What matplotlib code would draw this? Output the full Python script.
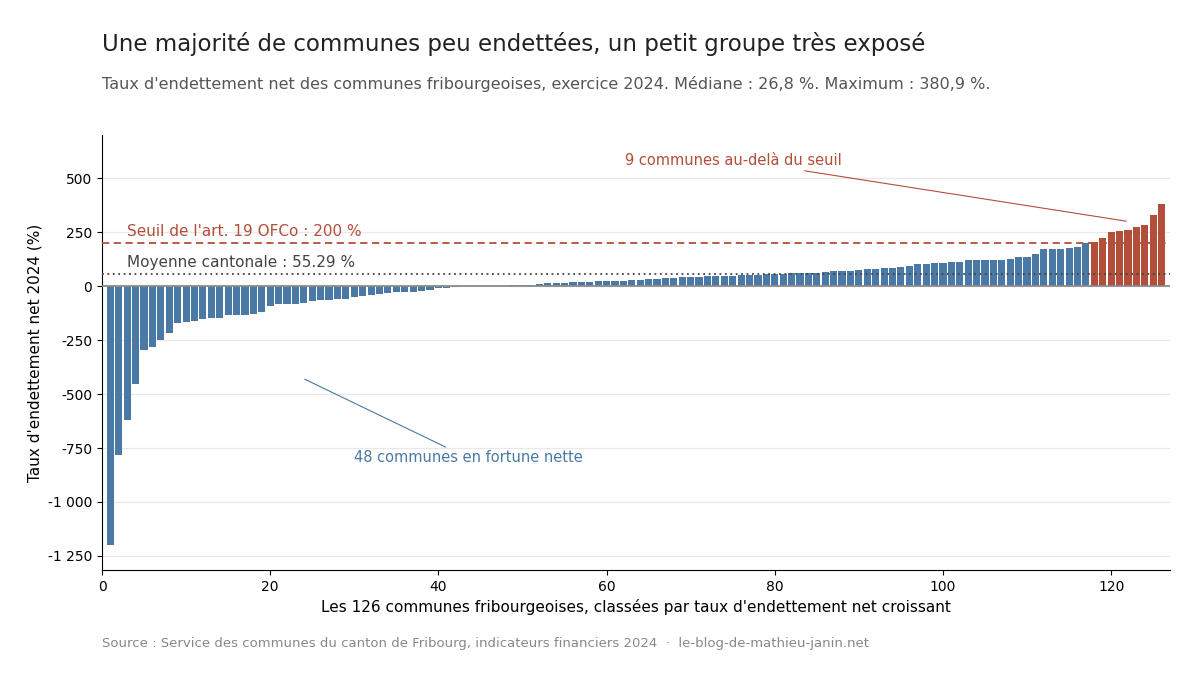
import numpy as np
import matplotlib.pyplot as plt
from matplotlib.ticker import FuncFormatter

# Taux d'endettement net (%) des 126 communes, classés par ordre croissant
neg_values = [-1199, -782, -620, -454, -296, -282, -250, -216, -171, -167,
              -162, -153, -148, -148, -134, -134, -134, -130, -120, -93,
              -83, -83, -83, -79, -69, -65, -65, -60, -60, -51,
              -46, -42, -37, -32, -28, -28, -28, -23, -19, -9, -8,
              -2.0, -1.5, -1.2, -0.8, -0.5, -0.3, -0.1]
pos_values = [6, 6, 6, 10, 14, 14, 14, 18, 18, 19,
              22, 23, 23, 24, 26.5, 27.1, 32, 32, 37, 37,
              41, 42, 42, 46, 46, 47, 47, 51, 51, 52,
              56, 56, 56, 60, 60, 61, 61, 65, 69, 69,
              69, 74, 79, 79, 83, 83, 88, 93, 102, 102,
              106, 106, 111, 111, 120, 120, 120, 120, 120, 125,
              134, 134, 148, 171, 171, 171, 176, 180, 198, 205,
              222, 250, 255, 259, 273, 282, 329, 380.9]
values = np.array(neg_values + pos_values)
ranks = np.arange(1, len(values) + 1)

threshold = 200
mean_canton = 55.29

BLUE = "#4a79a5"
RED = "#b34e3a"

plt.rcParams['font.family'] = ['DejaVu Sans']

fig = plt.figure(figsize=(12, 6.75), dpi=100)
ax = fig.add_axes([0.085, 0.1556, 0.89, 0.644])

colors = [RED if v > threshold else BLUE for v in values]
ax.bar(ranks, values, width=0.85, color=colors, zorder=2)

ax.axhline(0, color="#8c8c8c", lw=1.3, zorder=3)
ax.axhline(threshold, color=RED, lw=1.3, ls=(0, (4, 2.5)), zorder=3)
ax.axhline(mean_canton, color="#444444", lw=1.3, ls=(0, (1, 2)), zorder=3)

ax.text(3, threshold + 18, f"Seuil de l'art. 19 OFCo : {threshold} %",
        color=RED, fontsize=11, ha="left", va="bottom")
ax.text(3, mean_canton + 18, f"Moyenne cantonale : {mean_canton} %",
        color="#444444", fontsize=11, ha="left", va="bottom")

n_above = int((values > threshold).sum())
n_neg = int((values < 0).sum())
ax.annotate(f"{n_above} communes au-delà du seuil", xy=(121.8, 301),
            xytext=(62.2, 583), color=RED, fontsize=10.5, ha="left", va="center",
            arrowprops=dict(arrowstyle="-", color=RED, lw=0.8,
                            relpos=(0.74, 0), shrinkA=1, shrinkB=0))
ax.annotate(f"{n_neg} communes en fortune nette", xy=(24.1, -431),
            xytext=(30.0, -796), color=BLUE, fontsize=10.5, ha="left", va="center",
            arrowprops=dict(arrowstyle="-", color=BLUE, lw=0.8,
                            relpos=(0.43, 1), shrinkA=1, shrinkB=0))

ax.set_xlim(0, 127)
ax.set_ylim(-1315, 699)
ax.set_yticks(np.arange(-1250, 501, 250))
ax.yaxis.set_major_formatter(FuncFormatter(lambda v, p: f"{int(v):,}".replace(",", " ")))
ax.set_xticks([0, 20, 40, 60, 80, 100, 120])
ax.tick_params(labelsize=10)
ax.grid(axis="y", color="#e8e8e8", lw=0.9, zorder=0)
ax.set_axisbelow(True)
for s in ["top", "right"]:
    ax.spines[s].set_visible(False)

ax.set_xlabel("Les 126 communes fribourgeoises, classées par taux d'endettement net croissant",
              fontsize=11)
ax.set_ylabel("Taux d'endettement net 2024 (%)", fontsize=11)

fig.text(0.085, 0.935, "Une majorité de communes peu endettées, un petit groupe très exposé",
         fontsize=16.5, color="#222222", ha="left", va="center")
fig.text(0.085, 0.876, "Taux d'endettement net des communes fribourgeoises, exercice 2024. "
         "Médiane : 26,8 %. Maximum : 380,9 %.",
         fontsize=11.5, color="#555555", ha="left", va="center")
fig.text(0.085, 0.047, "Source : Service des communes du canton de Fribourg, indicateurs "
         "financiers 2024  ·  le-blog-de-mathieu-janin.net",
         fontsize=9.5, color="#888888", ha="left", va="center")

fig.savefig("out.png", dpi=100)
